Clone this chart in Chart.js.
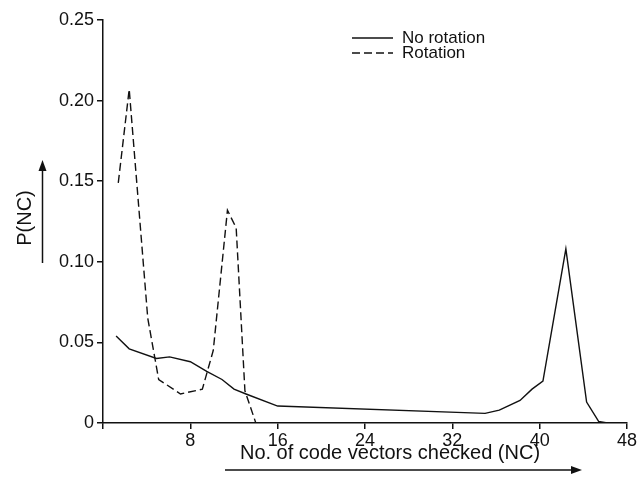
<!DOCTYPE html>
<html>
<head>
<meta charset="utf-8">
<script src="https://cdn.jsdelivr.net/npm/chart.js@4"></script>
<style>
  body { margin: 0; background: #fff; }
  canvas { display: block; }
</style>
</head>
<body>
<canvas id="ncChart" width="643" height="484"></canvas>
<script>
// NC = number of code vectors checked, P(NC) = its probability
const ncNoRotation = [1.2, 2.4, 4.9, 6.1, 8.0, 9.5, 10.9, 12.0, 13.1, 16.0, 35.0, 36.3, 38.2, 39.3, 40.3, 42.4, 44.3, 45.4, 46.2];
const pNoRotation = [0.054, 0.046, 0.040, 0.041, 0.038, 0.032, 0.027, 0.021, 0.018, 0.0105, 0.006, 0.008, 0.014, 0.021, 0.026, 0.108, 0.013, 0.001, 0];

const ncRotation = [1.4, 2.4, 4.1, 5.1, 7.1, 9.1, 10.1, 11.4, 12.2, 13.0, 14.0];
const pRotation = [0.149, 0.207, 0.065, 0.027, 0.018, 0.021, 0.045, 0.132, 0.121, 0.020, 0];

const xTicks = [0, 8, 16, 24, 32, 40, 48];
const yTicks = [0, 0.05, 0.10, 0.15, 0.20, 0.25];

const seriesNames = ['No rotation', 'Rotation'];
const xTitle = 'No. of code vectors checked (NC)';
const yTitle = 'P(NC)';

const FONT = '"Liberation Sans", Arial, sans-serif';

function toPoints(xs, ys) {
  return xs.map((x, i) => ({ x: x, y: ys[i] }));
}

function arrow(ctx, x1, y1, x2, y2) {
  const ang = Math.atan2(y2 - y1, x2 - x1);
  const len = 11, half = 4;
  ctx.beginPath();
  ctx.moveTo(x1, y1);
  ctx.lineTo(x2 - Math.cos(ang) * len, y2 - Math.sin(ang) * len);
  ctx.stroke();
  ctx.beginPath();
  ctx.moveTo(x2, y2);
  ctx.lineTo(x2 - Math.cos(ang) * len - Math.sin(ang) * half, y2 - Math.sin(ang) * len + Math.cos(ang) * half);
  ctx.lineTo(x2 - Math.cos(ang) * len + Math.sin(ang) * half, y2 - Math.sin(ang) * len - Math.cos(ang) * half);
  ctx.closePath();
  ctx.fill();
}

// axis titles with arrows and the small legend box
const decorations = {
  id: 'decorations',
  afterDraw(chart) {
    const ctx = chart.ctx;
    ctx.save();
    ctx.fillStyle = '#111';
    ctx.strokeStyle = '#111';
    ctx.lineWidth = 1.5;

    // x title
    ctx.font = '20px ' + FONT;
    ctx.textAlign = 'center';
    ctx.textBaseline = 'middle';
    ctx.fillText(xTitle, 390, 453);
    arrow(ctx, 225, 470, 582, 470);

    // y title, rotated
    ctx.save();
    ctx.translate(25, 218);
    ctx.rotate(-Math.PI / 2);
    ctx.fillText(yTitle, 0, 0);
    ctx.restore();
    arrow(ctx, 42.5, 263, 42.5, 160);

    // legend
    ctx.font = '17px ' + FONT;
    ctx.textAlign = 'left';
    const rows = [38, 53];
    chart.data.datasets.forEach((ds, i) => {
      ctx.setLineDash(ds.borderDash || []);
      ctx.lineWidth = 1.3;
      ctx.beginPath();
      ctx.moveTo(352, rows[i]);
      ctx.lineTo(393, rows[i]);
      ctx.stroke();
      ctx.setLineDash([]);
      ctx.fillText(ds.label, 402, rows[i]);
    });
    ctx.restore();
  }
};

new Chart(document.getElementById('ncChart'), {
  type: 'line',
  data: {
    datasets: [
      {
        label: seriesNames[0],
        data: toPoints(ncNoRotation, pNoRotation),
        borderColor: '#111',
        borderWidth: 1.4,
        pointRadius: 0,
        tension: 0,
        fill: false
      },
      {
        label: seriesNames[1],
        data: toPoints(ncRotation, pRotation),
        borderColor: '#111',
        borderWidth: 1.4,
        borderDash: [8, 4],
        pointRadius: 0,
        tension: 0,
        fill: false
      }
    ]
  },
  options: {
    responsive: false,
    animation: false,
    layout: { padding: { left: 0, right: 16, top: 20, bottom: 0 } },
    scales: {
      x: {
        type: 'linear',
        min: 0,
        max: 48,
        afterFit: (scale) => { scale.height = 61; },
        afterBuildTicks: (scale) => { scale.ticks = xTicks.map(v => ({ value: v })); },
        border: { display: true, color: '#111', width: 1.5 },
        grid: { display: true, drawOnChartArea: false, drawTicks: true, tickLength: 6, color: '#111', lineWidth: 1.5 },
        ticks: {
          color: '#111',
          font: { family: FONT, size: 18 },
          padding: 1,
          maxRotation: 0,
          callback: (v) => (v === 0 ? '' : String(v))
        }
      },
      y: {
        min: 0,
        max: 0.25,
        afterFit: (scale) => { scale.width = 103; },
        afterBuildTicks: (scale) => { scale.ticks = yTicks.map(v => ({ value: v })); },
        border: { display: true, color: '#111', width: 1.5 },
        grid: { display: true, drawOnChartArea: false, drawTicks: true, tickLength: 6, color: '#111', lineWidth: 1.5 },
        ticks: {
          color: '#111',
          font: { family: FONT, size: 18 },
          padding: 3,
          callback: (v) => (v === 0 ? '0' : v.toFixed(2))
        }
      }
    },
    plugins: {
      legend: { display: false },
      tooltip: { enabled: false }
    }
  },
  plugins: [decorations]
});
</script>
</body>
</html>
